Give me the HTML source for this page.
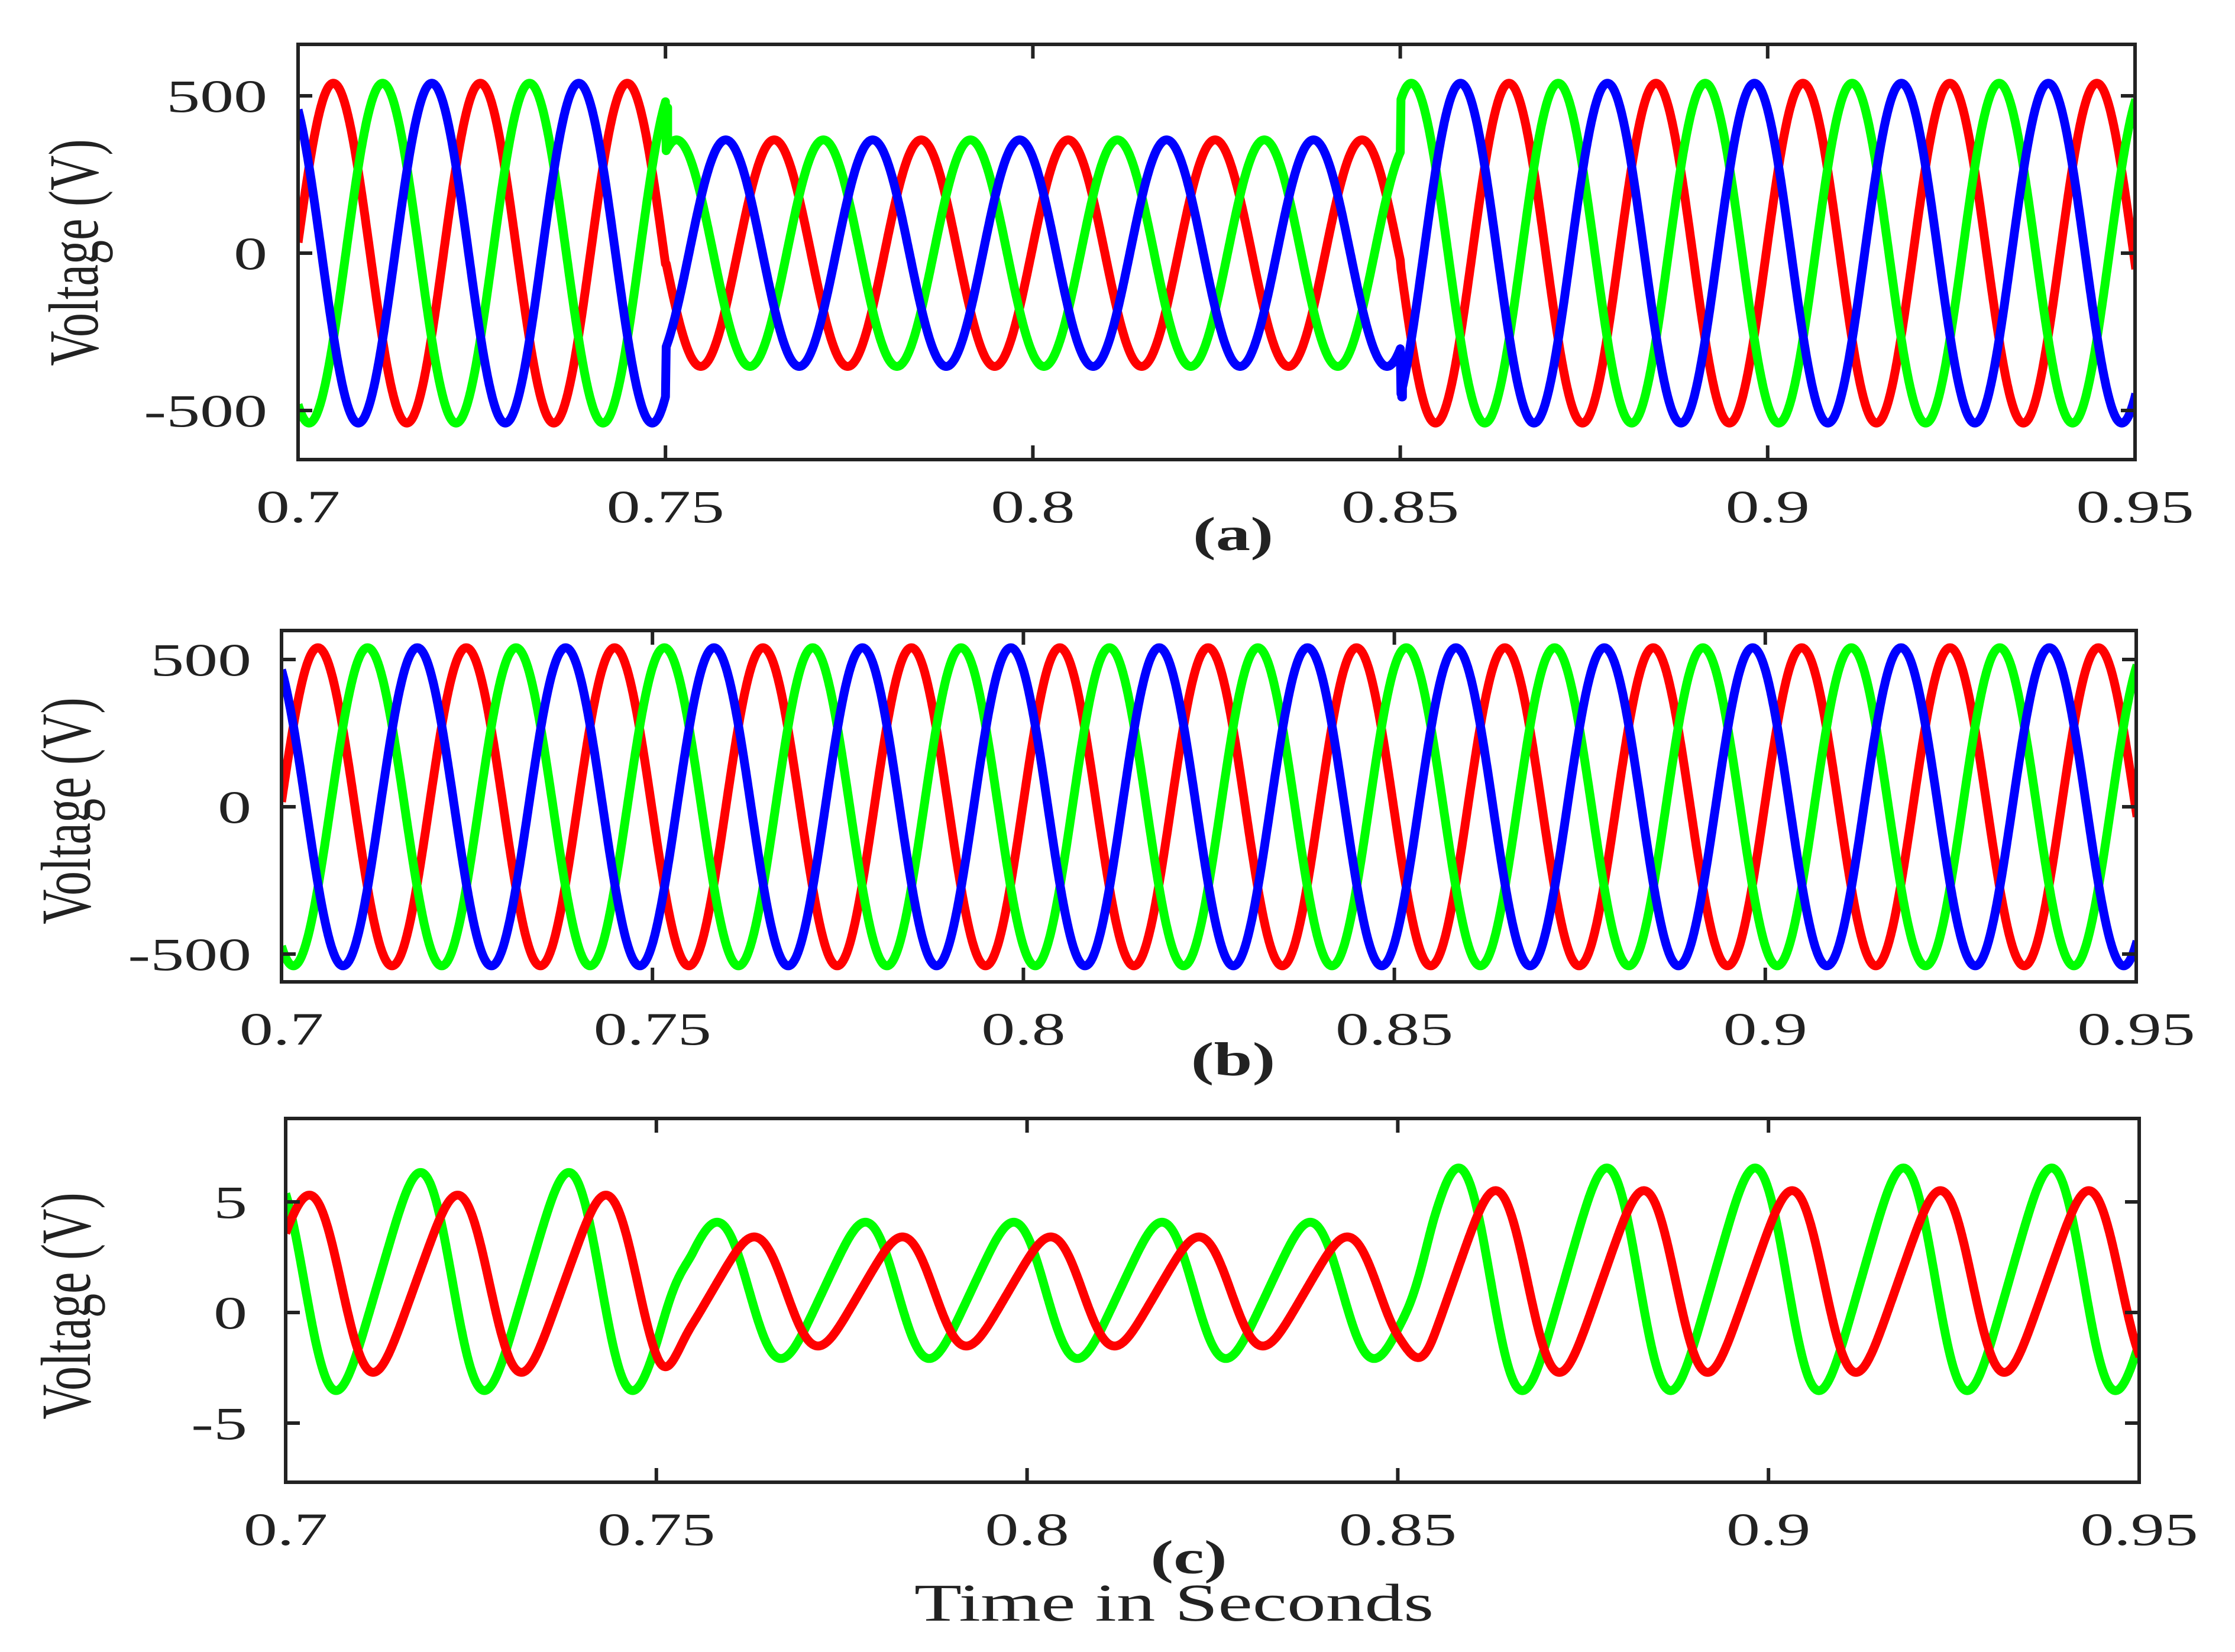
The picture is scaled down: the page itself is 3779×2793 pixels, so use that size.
<!DOCTYPE html>
<html><head><meta charset="utf-8"><style>
html,body{margin:0;padding:0;background:#fff;}
svg{display:block;}
text{font-family:"Liberation Serif",serif;fill:#222;}
</style></head><body>
<svg id="fig" width="3779" height="2793" viewBox="0 0 3779 2793" xmlns="http://www.w3.org/2000/svg">
<rect width="3779" height="2793" fill="#fff"/>
<g id="layer"></g>
</svg>
<script>
// ---- data ----
const xTicks = [0.7, 0.75, 0.8, 0.85, 0.9, 0.95];
const xTickLabels = ["0.7", "0.75", "0.8", "0.85", "0.9", "0.95"];
const freqHz = [50];
// panel a: amplitude per segment
const segA_times = [0.7, 0.75, 0.85, 0.95];
const segA_amp = [540, 360, 540];
const peakTimesABC = [0.7048, 0.7115, 0.7182]; // red, green, blue
const spikeA_times = [0.7502, 0.8502];
const spikeA_series = [1, 2];
const spikeA_vals = [462, -457];
// panel b
const ampB = [540];
const peakTimesB = [0.7049, 0.7116, 0.7183];
// panel c
const segC_times = [0.7, 0.75, 0.85, 0.95];
const segC_green_amp = [4.8, 3.0, 4.9];
const segC_green_off = [1.4, 1.0, 1.5];
const segC_red_amp = [3.9, 2.4, 4.0];
const segC_red_off = [1.3, 0.95, 1.4];
const peakTimesC = [0.7025, 0.7175]; // red, green
const yTicksA = [500, 0, -500];
const yTicksAL = ["500", "0", "-500"];
const yTicksC = [5, 0, -5];
const yTicksCL = ["5", "0", "-5"];

const NS = "http://www.w3.org/2000/svg";
const layer = document.getElementById('layer');
function mk(tag, attrs, parent) {
  const e = document.createElementNS(NS, tag);
  for (const k in attrs) e.setAttribute(k, attrs[k]);
  (parent || layer).appendChild(e);
  return e;
}
const SX = 1.46;
function txt(s, x, y, size, anchor, bold, name, rot) {
  const t = mk('text', {'font-size': size, 'text-anchor': anchor,
    transform: `translate(${x},${y}) scale(${SX},1)` + (rot ? ' rotate(-90)' : '')});
  if (bold) t.setAttribute('font-weight', 'bold');
  t.textContent = s;
  
  
  return t;
}

function panel(p) {
  const g = mk('g', {});
  
  
  const X = t => p.x0 + (t - 0.7) / 0.25 * (p.x1 - p.x0);
  const Y = v => p.y0v - v * p.pxPerUnit;
  const cid = 'clip' + p.name;
  const cp = mk('clipPath', {id: cid}, g);
  mk('rect', {x: p.x0, y: p.yt, width: p.x1 - p.x0, height: p.yb - p.yt}, cp);
  const sg = mk('g', {'clip-path': `url(#${cid})`}, g);
  p.series.forEach((s, i) => {
    let d = '';
    s.pts.forEach((pt, j) => { d += (j ? 'L' : 'M') + X(pt[0]).toFixed(1) + ' ' + Y(pt[1]).toFixed(1); });
    const path = mk('path', {d: d, fill: 'none', stroke: s.color, 'stroke-width': 15, 'stroke-linejoin': 'round'}, sg);
    
    
  });
  const fr = mk('rect', {x: p.x0, y: p.yt, width: p.x1 - p.x0, height: p.yb - p.yt, fill: 'none', stroke: '#222', 'stroke-width': 6}, g);
  
  
  xTicks.forEach((t, i) => {
    const x = X(t);
    mk('line', {x1: x, x2: x, y1: p.yb, y2: p.yb - 24, stroke: '#222', 'stroke-width': 6}, g);
    mk('line', {x1: x, x2: x, y1: p.yt, y2: p.yt + 24, stroke: '#222', 'stroke-width': 6}, g);
    txt(xTickLabels[i], x, p.xlabY, 78, 'middle', false, 'x-tick-label');
  });
  p.yt_vals.forEach((v, i) => {
    const y = Y(v);
    mk('line', {x1: p.x0, x2: p.x0 + 24, y1: y, y2: y, stroke: '#222', 'stroke-width': 6}, g);
    mk('line', {x1: p.x1, x2: p.x1 - 24, y1: y, y2: y, stroke: '#222', 'stroke-width': 6}, g);
    txt(p.yt_labels[i], p.ylabX, y + 27, 78, 'end', false, 'y-tick-label');
  });
  txt('Voltage (V)', p.yTitleX, p.yTitleY, 82, 'middle', false, 'y-axis-title', true);
  txt(p.tag, p.tagX, p.tagY, 80, 'middle', true, 'panel-caption');
}

const dt = 0.0001;
function sampleA(k) {
  const pts = [];
  const w = 2 * Math.PI * freqHz[0];
  for (let t = 0.7; t <= 0.9501; t += dt) {
    let seg = 0;
    for (let s = 0; s < segA_amp.length; s++) if (t >= segA_times[s]) seg = s;
    pts.push([t, segA_amp[seg] * Math.cos(w * (t - peakTimesABC[k]))]);
    spikeA_times.forEach((st, si) => {
      if (spikeA_series[si] === k && Math.abs(t - st) < dt / 2 + 1e-9) {
        pts.push([t, spikeA_vals[si]]); pts.push([t + dt, spikeA_vals[si]]);
      }
    });
  }
  return pts;
}
function sampleB(k) {
  const pts = []; const w = 2 * Math.PI * freqHz[0];
  for (let t = 0.7; t <= 0.9501; t += dt) pts.push([t, ampB[0] * Math.cos(w * (t - peakTimesB[k]))]);
  return pts;
}
function blend(arr, t) {
  // smooth transition between segment values (ramp ~4 ms)
  let v = arr[0];
  for (let s = 1; s < arr.length; s++) {
    const r = Math.min(1, Math.max(0, (t - segC_times[s]) / 0.005));
    const sm = r * r * (3 - 2 * r);
    v += (arr[s] - arr[s - 1]) * sm;
  }
  return v;
}
function sampleC(amp, off, pk) {
  const pts = []; const w = 2 * Math.PI * freqHz[0];
  for (let t = 0.7; t <= 0.9501; t += dt) {
    const ph = w * (t - pk);
    const v = Math.cos(ph) + 0.12 * Math.sin(2 * ph);
    pts.push([t, blend(off, t) + blend(amp, t) * v]);
  }
  return pts;
}

panel({name: 'panel-a', x0: 504, x1: 3610, yt: 75, yb: 777, y0v: 428, pxPerUnit: 266 / 500,
  yt_vals: yTicksA, yt_labels: yTicksAL, ylabX: 452, xlabY: 883, yTitleX: 165, yTitleY: 427,
  tag: '(a)', tagX: 2085, tagY: 930,
  series: [{name: 'phase-a-red', color: '#ff0000', pts: sampleA(0)},
           {name: 'phase-b-green', color: '#00ff00', pts: sampleA(1)},
           {name: 'phase-c-blue', color: '#0000ff', pts: sampleA(2)}]});
panel({name: 'panel-b', x0: 476, x1: 3612, yt: 1066, yb: 1660, y0v: 1364, pxPerUnit: 249 / 500,
  yt_vals: yTicksA, yt_labels: yTicksAL, ylabX: 425, xlabY: 1766, yTitleX: 152, yTitleY: 1371,
  tag: '(b)', tagX: 2085, tagY: 1818,
  series: [{name: 'phase-a-red', color: '#ff0000', pts: sampleB(0)},
           {name: 'phase-b-green', color: '#00ff00', pts: sampleB(1)},
           {name: 'phase-c-blue', color: '#0000ff', pts: sampleB(2)}]});
panel({name: 'panel-c', x0: 483, x1: 3617, yt: 1891, yb: 2506, y0v: 2219, pxPerUnit: 187 / 5,
  yt_vals: yTicksC, yt_labels: yTicksCL, ylabX: 418, xlabY: 2612, yTitleX: 152, yTitleY: 2208,
  tag: '(c)', tagX: 2010, tagY: 2660,
  series: [{name: 'signal-green', color: '#00ff00', pts: sampleC(segC_green_amp, segC_green_off, peakTimesC[1])},
           {name: 'signal-red', color: '#ff0000', pts: sampleC(segC_red_amp, segC_red_off, peakTimesC[0])}]});
txt('Time in Seconds', 1985, 2740, 90, 'middle', false, 'x-axis-title');
</script>
</body></html>
